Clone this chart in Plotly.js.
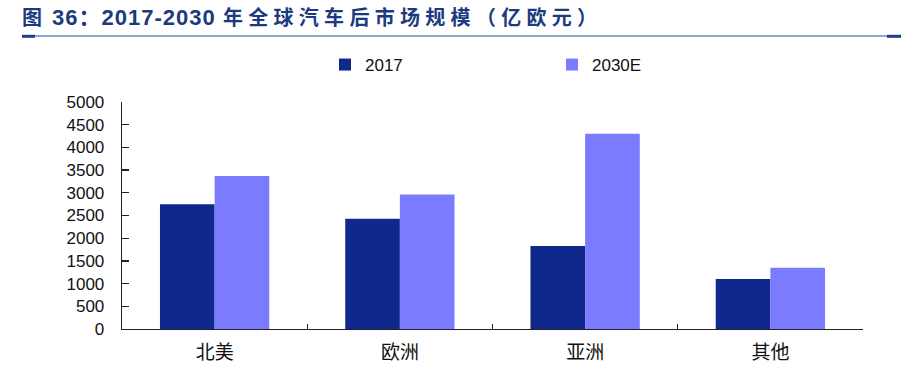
<!DOCTYPE html>
<html>
<head>
<meta charset="utf-8">
<script src="https://cdn.plot.ly/plotly-3.0.1.min.js"></script>
<style>
html,body{margin:0;padding:0;background:#fff;}
#chart{width:916px;height:372px;}
</style>
</head>
<body>
<div id="chart"></div>
<script>
// ---- data ----
const categories = ["北美", "欧洲", "亚洲", "其他"];
const series2017 = [2750, 2430, 1830, 1100];
const series2030E = [3370, 2960, 4300, 1350];
const seriesNames = ["2017", "2030E"];
const yTicks = [0, 500, 1000, 1500, 2000, 2500, 3000, 3500, 4000, 4500, 5000];
const titleCJK1 = "图";
const titleNum = " 36：2017-2030 ";
const titleCJK2 = "年全球汽车后市场规模（亿欧元）";

// ---- layout constants ----
const W = 916, H = 372;
const M = {l: 122, r: 53, t: 102, b: 43};
const pw = W - M.l - M.r, ph = H - M.t - M.b;
const px2x = x => (x - M.l) / pw;
const px2y = y => (H - M.b - y) / ph;

const c2017 = "#10278c";
const c2030 = "#7b7bff";
const axisCol = "#222222";
const titleCol = "#1b3a80";
const lineCol = "#2c4ca8";

const traces = [
  {type: "bar", name: seriesNames[0], x: categories, y: series2017,
   marker: {color: c2017}, legend: "legend", hoverinfo: "x+y"},
  {type: "bar", name: seriesNames[1], x: categories, y: series2030E,
   marker: {color: c2030}, legend: "legend2", hoverinfo: "x+y"}
];

const legendFont = {family: "Liberation Sans, Arial, sans-serif", size: 17, color: "#111"};

const layout = {
  width: W, height: H,
  margin: M,
  paper_bgcolor: "#fff", plot_bgcolor: "#fff",
  barmode: "group",
  bargap: 0.41, bargroupgap: 0,
  showlegend: true,
  title: {
    text: '<span style="letter-spacing:3px">' + titleCJK1 + '</span>' +
          '<span style="font-size:22px;letter-spacing:1px">' + titleNum + '</span>' +
          '<span style="letter-spacing:5.3px">' + titleCJK2 + '</span>',
    font: {family: "Liberation Sans, Noto Sans CJK SC, sans-serif", size: 20, color: titleCol, weight: 700},
    xref: "container", x: 22 / W, xanchor: "left",
    yref: "container", y: 1 - 18 / H, yanchor: "middle"
  },
  legend: {
    orientation: "h", xref: "container", yref: "container",
    x: 325 / W, xanchor: "left", y: 1 - 65 / H, yanchor: "middle",
    font: legendFont, bgcolor: "rgba(0,0,0,0)", itemwidth: 30
  },
  legend2: {
    orientation: "h", xref: "container", yref: "container",
    x: 552 / W, xanchor: "left", y: 1 - 65 / H, yanchor: "middle",
    font: legendFont, bgcolor: "rgba(0,0,0,0)", itemwidth: 30
  },
  xaxis: {
    type: "category",
    showline: true, linecolor: axisCol, linewidth: 1.3,
    ticks: "inside", tickson: "boundaries", ticklen: 5, tickcolor: axisCol, tickwidth: 1.3,
    showgrid: false, zeroline: false,
    tickfont: {family: "Noto Sans CJK SC, sans-serif", size: 19, color: "#111"},
    ticklabelstandoff: 6,
    fixedrange: true
  },
  yaxis: {
    range: [0, 5000],
    tickvals: yTicks, ticktext: yTicks.map(String),
    showline: true, linecolor: axisCol, linewidth: 1.3,
    ticks: "inside", ticklen: 7, tickcolor: axisCol, tickwidth: 1.3,
    showgrid: false, zeroline: false,
    tickfont: {family: "Liberation Sans, Arial, sans-serif", size: 17, color: "#111"},
    ticklabelstandoff: 13,
    fixedrange: true
  },
  shapes: [
    {type: "line", xref: "paper", yref: "paper",
     x0: px2x(22), x1: px2x(901), y0: px2y(36), y1: px2y(36),
     line: {color: lineCol, width: 1}},
    {type: "line", xref: "paper", yref: "paper",
     x0: px2x(22), x1: px2x(35), y0: px2y(36.3), y1: px2y(36.3),
     line: {color: "#1e3c96", width: 3}},
    {type: "line", xref: "paper", yref: "paper",
     x0: px2x(887), x1: px2x(901), y0: px2y(36.3), y1: px2y(36.3),
     line: {color: "#1e3c96", width: 3}}
  ]
};

Plotly.newPlot("chart", traces, layout, {displayModeBar: false, staticPlot: true});
</script>
</body>
</html>
